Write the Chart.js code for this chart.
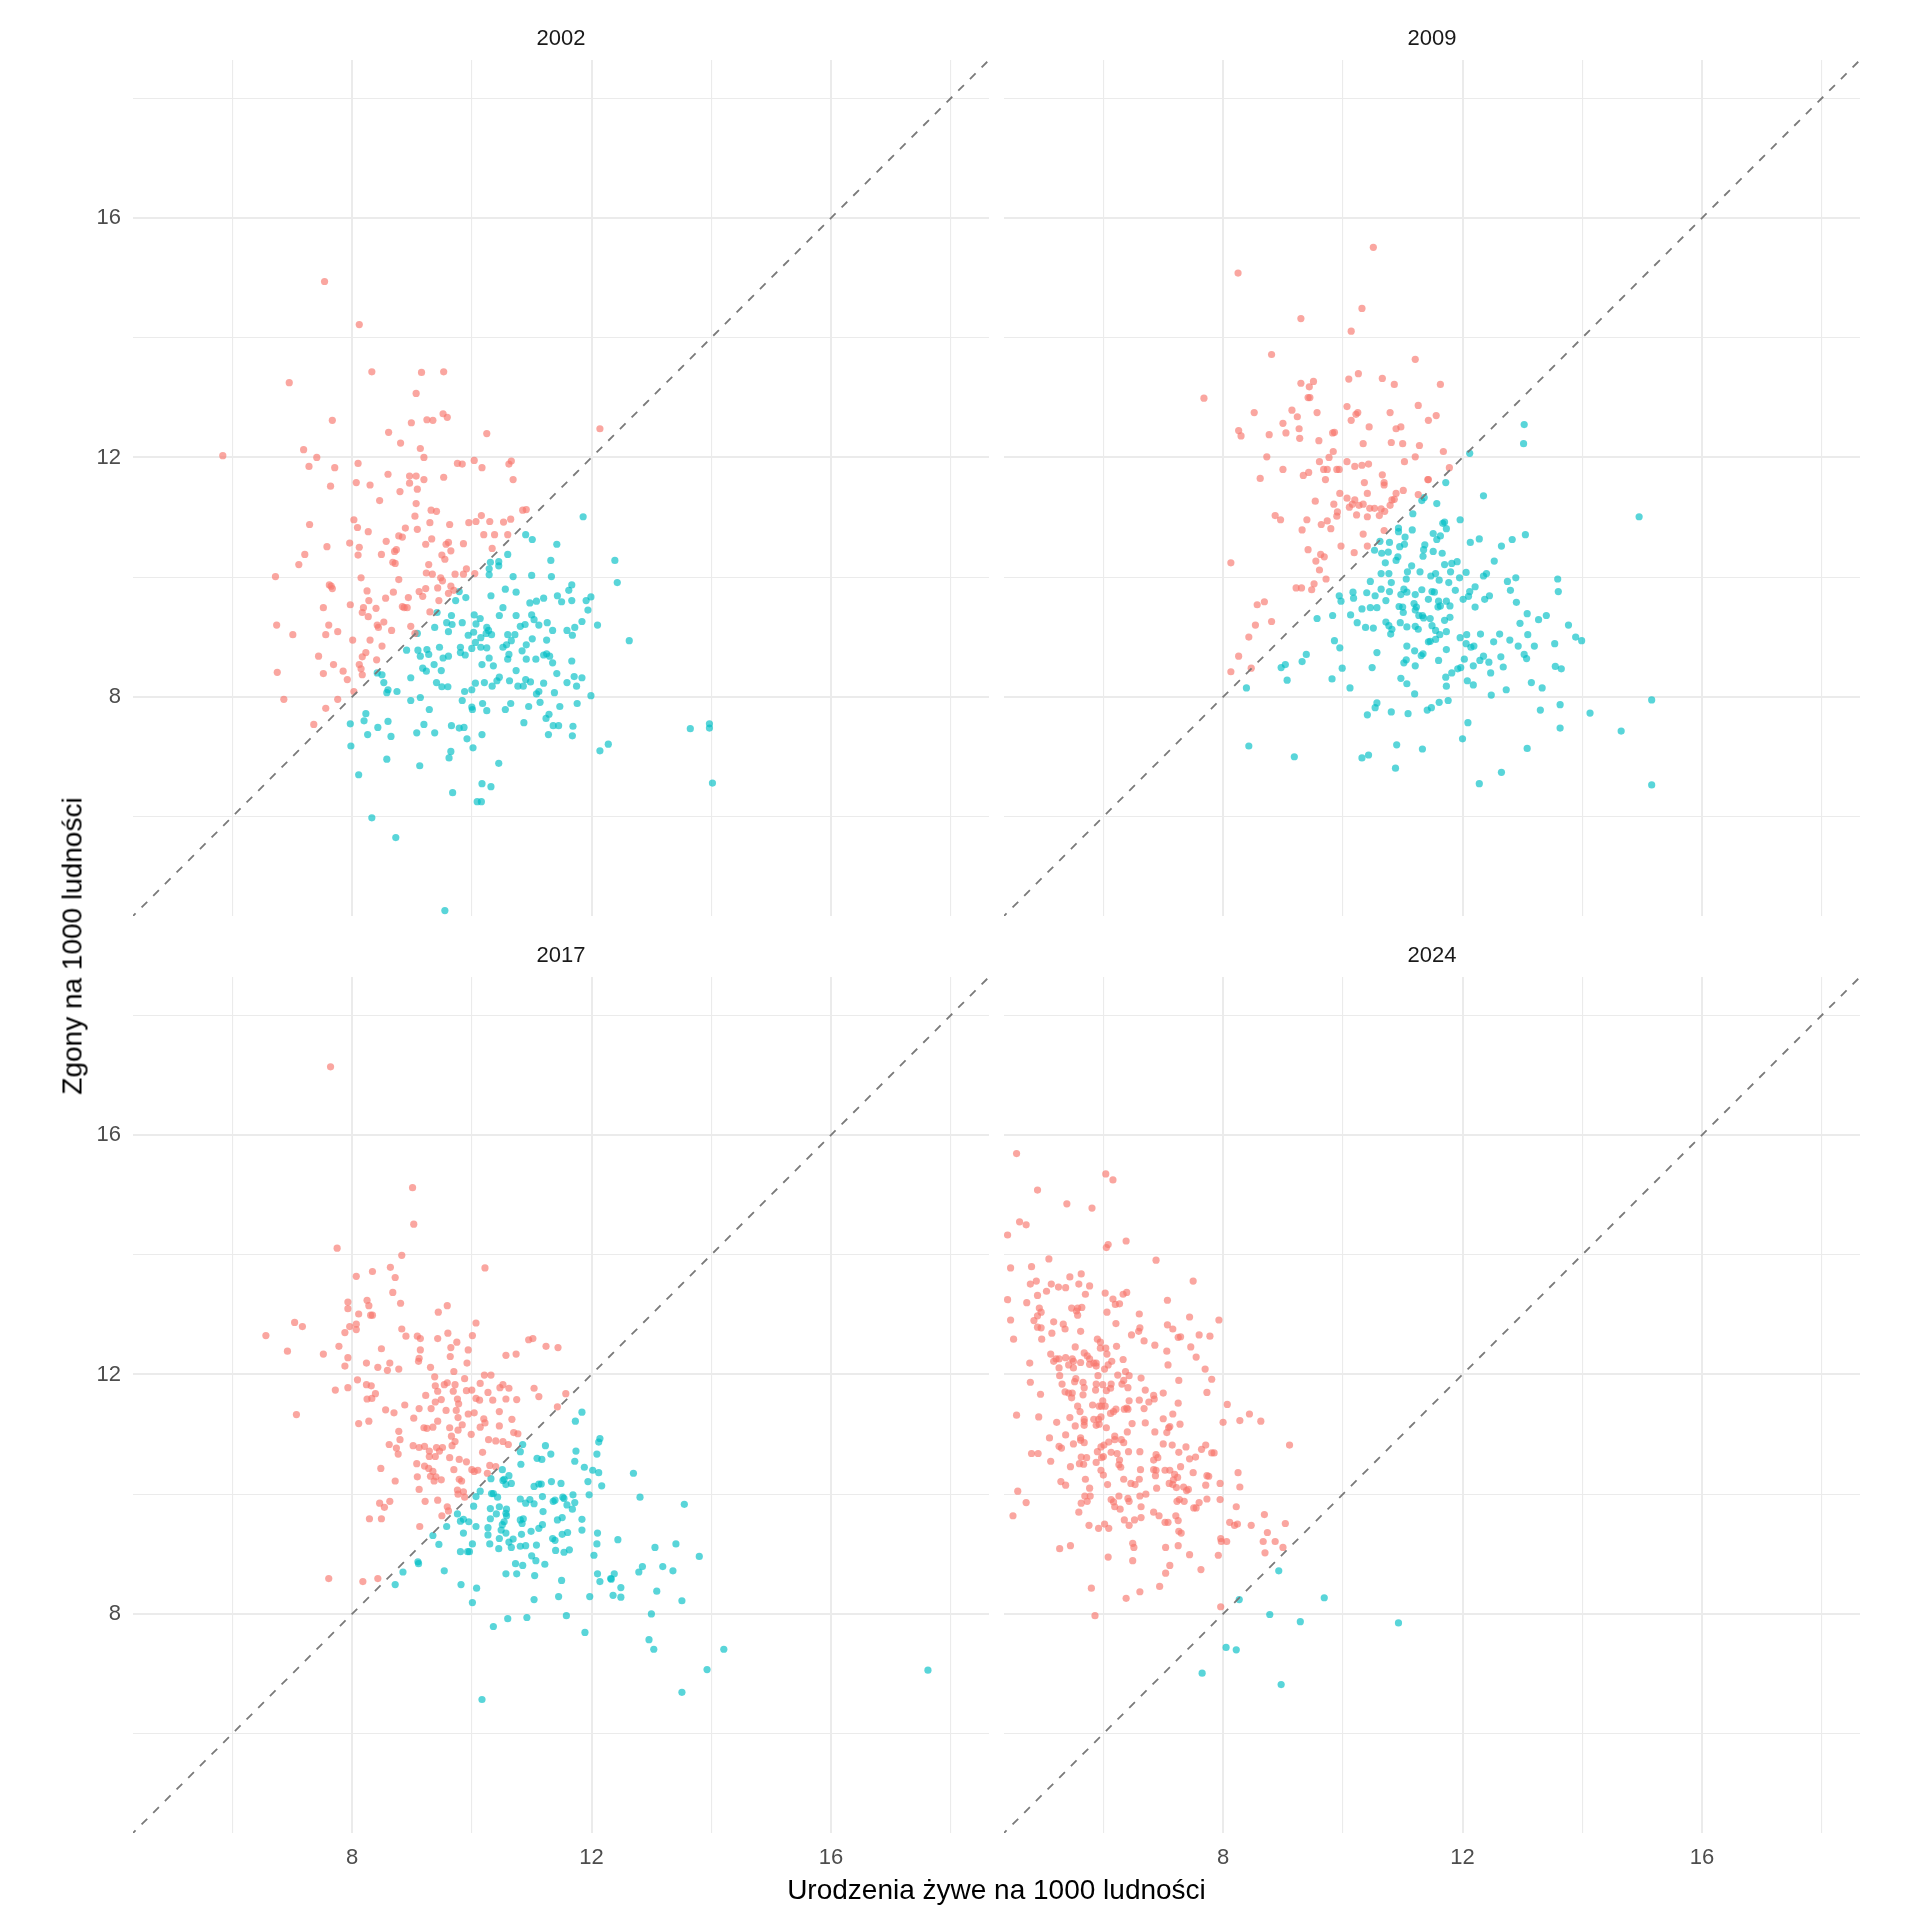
<!DOCTYPE html>
<html>
<head>
<meta charset="utf-8">
<script src="https://cdn.jsdelivr.net/npm/chart.js@4.4.1/dist/chart.umd.min.js"></script>
<style>
    body { margin: 0; background: #fff; }
    #wrap { position: relative; width: 1920px; height: 1920px; font-family: "Liberation Sans", Arial, sans-serif; }
    #wrap canvas { position: absolute; }
    .strip { position: absolute; width: 856px; text-align: center; font-size: 22px; line-height: 26px; color: #1A1A1A; }
    .axis-title { position: absolute; text-align: center; font-size: 28px; line-height: 34px; color: #000; }
</style>
</head>
<body>
<div id="wrap">
    <canvas id="c2002" width="926" height="946"></canvas>
    <canvas id="c2009" width="926" height="946"></canvas>
    <canvas id="c2017" width="926" height="946"></canvas>
    <canvas id="c2024" width="926" height="946"></canvas>
    <div class="strip" id="s2002"></div>
    <div class="strip" id="s2009"></div>
    <div class="strip" id="s2017"></div>
    <div class="strip" id="s2024"></div>
    <div class="axis-title" id="xTitle" style="left:133px; top:1873px; width:1727px;">Urodzenia żywe na 1000 ludności</div>
    <div class="axis-title" id="yTitle" style="left:-814px; top:929px; width:1773px; height:34px; transform:rotate(-90deg);">Zgony na 1000 ludności</div>
</div>
<script>
// facet years
const years = ['2002', '2009', '2017', '2024'];

// [births, deaths] per 1000 people
const pts2002 = [
    [7.54,14.94],[8.12,14.22],[6.95,13.25],[8.33,13.43],[9.16,13.42],[9.53,13.43],[9.07,13.07],[7.67,12.62],[9.52,12.73],[9.59,12.67],
    [9.25,12.63],[9.35,12.62],[8.99,12.58],[8.61,12.42],[10.25,12.40],[12.14,12.48],[8.81,12.24],[7.19,12.13],[9.14,12.15],[5.84,12.03],
    [7.41,12.0],[9.20,12.0],[8.10,11.90],[7.28,11.85],[7.71,11.83],[9.76,11.90],[9.84,11.89],[10.04,11.95],[10.17,11.83],[10.62,11.89],
    [10.66,11.94],[10.69,11.63],[8.60,11.72],[8.96,11.69],[9.07,11.69],[9.20,11.63],[9.53,11.67],[8.96,11.57],[8.07,11.58],[8.30,11.54],
    [7.64,11.52],[8.80,11.43],[9.09,11.47],[8.46,11.28],[9.07,11.23],[9.32,11.12],[9.41,11.10],[10.85,11.12],[10.91,11.13],[8.03,10.96],
    [9.05,11.02],[10.16,11.03],[9.95,10.91],[10.07,10.93],[10.30,10.93],[10.53,10.92],[10.65,10.97],[7.29,10.88],[8.09,10.83],[8.27,10.76],
    [8.89,10.82],[9.09,10.80],[9.30,10.91],[9.63,10.88],[10.20,10.71],[10.38,10.71],[10.60,10.71],[8.78,10.69],[8.84,10.67],[8.57,10.60],
    [9.33,10.64],[7.96,10.57],[7.58,10.51],[8.12,10.50],[9.23,10.55],[9.57,10.55],[9.61,10.58],[9.86,10.56],[8.71,10.43],[8.74,10.46],
    [9.65,10.44],[10.34,10.48],[7.21,10.38],[8.10,10.37],[8.49,10.38],[9.50,10.37],[9.55,10.30],[7.11,10.21],[8.68,10.25],[8.72,10.23],
    [9.28,10.21],[9.91,10.14],[9.24,10.07],[9.34,10.05],[9.72,10.05],[9.86,10.05],[10.05,10.06],[6.72,10.01],[8.15,9.99],[8.78,9.96],
    [9.48,9.99],[9.51,9.94],[7.62,9.87],[7.67,9.81],[7.65,9.85],[8.25,9.77],[8.69,9.75],[9.12,9.76],[9.23,9.81],[9.43,9.82],
    [9.65,9.85],[9.70,9.78],[9.61,9.73],[9.79,9.76],[8.56,9.65],[8.94,9.66],[9.18,9.68],[8.28,9.61],[9.45,9.61],[7.97,9.54],
    [7.52,9.49],[8.19,9.49],[8.40,9.48],[8.84,9.51],[8.87,9.49],[8.92,9.49],[8.17,9.41],[8.27,9.34],[9.30,9.42],[6.74,9.20],
    [7.61,9.20],[8.53,9.25],[8.42,9.20],[8.44,9.16],[8.98,9.18],[8.66,9.11],[7.76,9.09],[7.01,9.04],[7.56,9.04],[9.05,9.06],
    [8.01,8.95],[8.30,8.95],[8.50,8.85],[8.23,8.74],[7.44,8.68],[8.17,8.67],[8.41,8.62],[8.12,8.54],[7.69,8.54],[8.15,8.47],
    [7.85,8.43],[6.75,8.41],[7.52,8.39],[8.17,8.37],[7.92,8.29],[6.86,7.96],[7.76,7.96],[8.03,8.09],[7.56,7.81],[7.36,7.54],
    [11.86,11.01],[10.90,10.71],[11.01,10.63],[11.42,10.55],[12.39,10.28],[10.60,10.38],[11.32,10.28],[10.31,10.25],[10.45,10.26],[10.45,10.19],
    [10.29,10.14],[10.29,10.04],[10.69,10.01],[11.00,10.03],[11.33,10.01],[12.43,9.91],[11.67,9.87],[10.56,9.80],[10.74,9.75],[11.62,9.78],
    [11.43,9.69],[9.90,9.66],[9.73,9.61],[10.32,9.69],[11.20,9.65],[11.08,9.60],[10.97,9.57],[11.50,9.59],[11.67,9.61],[11.99,9.67],
    [11.91,9.61],[11.94,9.45],[10.52,9.49],[9.42,9.41],[9.66,9.36],[10.04,9.37],[10.14,9.31],[10.46,9.36],[10.74,9.36],[11.00,9.37],
    [11.04,9.29],[9.58,9.24],[9.67,9.21],[9.84,9.24],[10.07,9.22],[9.38,9.16],[9.61,9.09],[10.25,9.16],[10.28,9.11],[10.81,9.18],
    [10.89,9.21],[11.12,9.20],[11.26,9.24],[11.35,9.11],[11.59,9.11],[11.72,9.16],[11.84,9.26],[12.10,9.20],[11.68,9.03],[9.09,9.06],
    [9.94,9.03],[10.03,9.08],[10.15,8.99],[10.24,9.06],[10.33,9.04],[10.60,9.04],[10.72,9.04],[11.01,8.97],[11.25,8.95],[12.63,8.94],
    [10.00,8.81],[10.06,8.91],[10.15,8.83],[10.25,8.82],[10.52,8.83],[10.58,8.87],[10.66,8.94],[10.91,8.87],[9.81,8.83],[8.91,8.78],
    [9.10,8.78],[9.25,8.79],[9.28,8.71],[9.46,8.83],[9.81,8.74],[9.89,8.70],[9.14,8.68],[9.52,8.65],[9.61,8.68],[10.29,8.65],
    [10.62,8.71],[10.60,8.63],[10.84,8.77],[10.91,8.63],[11.07,8.63],[11.20,8.70],[11.25,8.72],[11.30,8.68],[11.67,8.60],[11.35,8.57],
    [9.37,8.54],[10.17,8.54],[10.36,8.52],[9.18,8.48],[9.24,8.43],[9.49,8.44],[10.74,8.44],[11.42,8.39],[8.42,8.40],[8.50,8.37],
    [8.98,8.32],[9.41,8.24],[9.50,8.17],[9.60,8.17],[10.06,8.23],[10.21,8.24],[10.34,8.18],[10.42,8.27],[10.46,8.33],[10.63,8.27],
    [10.77,8.18],[10.86,8.18],[10.90,8.29],[10.98,8.25],[11.20,8.23],[11.59,8.24],[11.71,8.34],[11.84,8.32],[11.75,8.18],[8.53,8.24],
    [8.60,8.12],[8.75,8.09],[8.58,8.07],[9.88,8.09],[10.00,8.12],[11.08,8.05],[11.12,8.09],[11.38,8.07],[11.99,8.02],[8.98,7.94],
    [9.14,7.99],[9.84,7.94],[10.18,7.89],[11.14,7.91],[11.76,7.89],[10.00,7.83],[10.01,7.79],[9.29,7.79],[10.25,7.77],[10.56,7.79],
    [10.65,7.89],[10.95,7.84],[11.47,7.84],[8.23,7.72],[11.29,7.71],[11.24,7.64],[8.20,7.60],[7.97,7.55],[8.60,7.59],[9.20,7.54],
    [9.66,7.52],[9.79,7.48],[9.87,7.49],[10.87,7.57],[11.36,7.52],[11.45,7.52],[11.69,7.51],[13.65,7.47],[13.97,7.55],[13.97,7.48],
    [8.43,7.49],[8.26,7.37],[8.65,7.34],[9.08,7.40],[9.38,7.40],[10.17,7.37],[11.28,7.37],[11.68,7.35],[9.92,7.30],[10.02,7.15],
    [12.28,7.21],[12.14,7.10],[7.98,7.18],[9.65,7.09],[9.62,6.98],[8.58,6.96],[10.45,6.89],[9.13,6.85],[8.11,6.70],[14.02,6.56],
    [10.17,6.55],[10.32,6.50],[10.09,6.25],[10.16,6.25],[9.68,6.40],[8.33,5.98],[8.73,5.65],[9.55,4.43]
];

const pts2009 = [
    [10.51,15.51],[8.25,15.08],[10.32,14.49],[9.30,14.32],[10.14,14.11],[8.81,13.72],[11.21,13.64],[10.10,13.31],[10.26,13.40],[10.66,13.32],
    [10.86,13.22],[11.63,13.22],[9.30,13.24],[9.44,13.18],[9.51,13.27],[9.42,13.00],[9.45,13.00],[7.68,12.99],[8.52,12.75],[9.15,12.79],
    [9.24,12.68],[9.57,12.75],[10.07,12.85],[10.22,12.72],[10.25,12.75],[10.14,12.62],[10.79,12.75],[11.26,12.87],[11.43,12.62],[11.56,12.70],
    [9.00,12.57],[9.27,12.48],[8.26,12.45],[8.30,12.36],[8.77,12.38],[9.05,12.41],[9.28,12.32],[9.60,12.28],[9.83,12.41],[9.86,12.42],
    [10.44,12.51],[10.89,12.48],[10.97,12.51],[10.34,12.23],[10.81,12.25],[11.00,12.23],[11.28,12.20],[11.68,12.10],[8.73,12.01],[9.84,12.10],
    [9.77,12.00],[9.61,11.93],[10.07,11.93],[10.20,11.85],[10.32,11.87],[10.43,11.89],[11.03,11.93],[11.21,12.01],[11.78,11.83],[9.00,11.80],
    [9.34,11.70],[9.43,11.75],[9.68,11.80],[9.74,11.80],[9.90,11.80],[9.94,11.80],[8.62,11.65],[9.71,11.63],[10.36,11.58],[10.66,11.71],
    [10.69,11.58],[10.69,11.54],[11.42,11.63],[11.43,11.63],[9.95,11.40],[10.41,11.40],[10.89,11.40],[11.01,11.45],[11.26,11.38],[9.54,11.27],
    [10.07,11.32],[10.20,11.29],[10.16,11.22],[10.27,11.20],[10.34,11.22],[10.45,11.15],[10.53,11.15],[10.64,11.14],[10.79,11.20],[10.82,11.29],
    [10.86,11.30],[9.85,11.22],[10.11,11.17],[9.91,11.09],[9.90,11.02],[10.23,11.04],[10.41,11.01],[10.61,11.03],[10.70,11.10],[8.87,11.03],
    [8.96,10.96],[9.40,10.96],[9.74,10.94],[9.64,10.88],[9.80,10.81],[9.32,10.79],[10.34,10.72],[10.69,10.78],[10.41,10.52],[9.97,10.52],
    [10.19,10.41],[9.42,10.46],[9.63,10.38],[9.69,10.34],[9.55,10.27],[9.61,10.12],[8.13,10.24],[9.72,9.97],[9.52,9.89],[9.22,9.82],
    [9.31,9.82],[9.48,9.79],[8.69,9.59],[8.57,9.54],[8.81,9.26],[8.54,9.20],[8.43,9.00],[8.26,8.68],[8.13,8.42],
    [13.03,12.55],[13.02,12.23],[12.12,12.07],[11.72,11.58],[12.35,11.36],[11.36,11.33],[11.32,11.28],[11.57,11.23],[11.17,11.06],[14.95,11.01],
    [11.96,10.96],[11.67,10.90],[11.70,10.92],[11.73,10.81],[10.93,10.82],[10.93,10.76],[11.16,10.79],[11.51,10.73],[11.63,10.69],[11.57,10.63],
    [11.04,10.67],[10.62,10.60],[10.78,10.58],[11.03,10.55],[10.95,10.51],[11.37,10.54],[11.35,10.46],[12.13,10.58],[12.28,10.64],[12.65,10.52],
    [12.83,10.63],[13.05,10.71],[10.53,10.45],[10.65,10.40],[10.76,10.42],[10.92,10.34],[10.89,10.28],[11.34,10.35],[11.51,10.43],[11.66,10.40],
    [10.71,10.24],[11.15,10.19],[11.82,10.23],[11.91,10.26],[11.70,10.21],[12.53,10.27],[11.08,10.09],[11.29,10.09],[11.55,10.06],[11.80,10.09],
    [12.06,10.08],[10.64,10.06],[10.77,10.06],[11.06,9.97],[11.47,10.02],[11.61,9.95],[11.77,9.91],[11.95,9.99],[12.35,10.02],[12.40,10.06],
    [12.75,9.93],[12.89,9.99],[13.59,9.97],[13.60,9.76],[10.46,9.93],[10.81,9.91],[10.64,9.80],[10.78,9.76],[11.02,9.80],[11.07,9.75],
    [11.32,9.79],[11.49,9.76],[11.53,9.75],[11.88,9.78],[12.12,9.76],[12.21,9.84],[12.80,9.78],[10.17,9.75],[10.40,9.74],[10.54,9.69],
    [10.72,9.61],[10.97,9.71],[11.21,9.71],[11.43,9.63],[11.60,9.60],[11.73,9.60],[12.01,9.63],[12.10,9.68],[12.37,9.63],[12.45,9.69],
    [9.94,9.69],[9.97,9.60],[10.18,9.65],[12.90,9.58],[10.94,9.51],[11.00,9.50],[11.19,9.56],[11.23,9.50],[11.21,9.45],[11.59,9.50],
    [11.63,9.52],[11.79,9.52],[12.21,9.50],[10.32,9.47],[10.46,9.49],[10.57,9.49],[11.01,9.41],[11.27,9.36],[11.33,9.36],[11.46,9.31],
    [11.35,9.32],[11.21,9.18],[11.26,9.13],[11.49,9.19],[11.79,9.33],[11.70,9.28],[13.08,9.39],[13.27,9.29],[13.40,9.36],[12.96,9.23],
    [10.13,9.37],[9.83,9.36],[9.57,9.31],[10.24,9.24],[10.38,9.16],[10.51,9.15],[10.72,9.25],[10.77,9.19],[10.82,9.13],[10.80,9.05],
    [10.96,9.24],[11.07,9.17],[11.55,9.11],[11.62,9.04],[11.55,8.96],[11.43,8.92],[11.46,8.93],[11.73,9.09],[11.96,8.99],[12.07,9.04],
    [12.30,9.05],[12.62,9.05],[13.09,9.04],[12.52,8.92],[12.79,8.95],[13.77,9.20],[13.89,9.00],[13.99,8.94],[13.54,8.89],[12.06,8.89],
    [12.14,8.83],[12.19,8.85],[12.93,8.85],[13.20,8.85],[9.86,8.94],[9.95,8.82],[11.07,8.85],[11.20,8.77],[11.31,8.69],[11.34,8.72],
    [11.73,8.79],[10.57,8.74],[12.35,8.68],[12.29,8.61],[12.44,8.58],[12.64,8.67],[13.03,8.71],[13.07,8.64],[12.03,8.63],[11.06,8.62],
    [11.02,8.57],[11.21,8.52],[11.60,8.61],[12.18,8.52],[12.68,8.50],[12.47,8.40],[11.92,8.47],[11.97,8.49],[11.82,8.40],[13.55,8.51],
    [13.65,8.47],[9.39,8.71],[9.32,8.59],[9.04,8.54],[8.97,8.49],[8.47,8.48],[9.99,8.48],[10.49,8.49],[9.07,8.28],[9.82,8.30],
    [10.97,8.31],[11.07,8.22],[11.72,8.33],[11.73,8.18],[12.08,8.27],[12.18,8.20],[13.15,8.24],[13.33,8.15],[12.73,8.12],[12.48,8.03],
    [11.20,8.05],[10.12,8.15],[8.39,8.15],[15.16,7.95],[10.57,7.90],[10.54,7.82],[10.41,7.70],[10.81,7.75],[11.09,7.72],[11.41,7.78],
    [11.48,7.82],[11.61,7.91],[11.76,7.94],[13.30,7.78],[13.63,7.87],[14.13,7.73],[12.09,7.57],[13.63,7.48],[14.65,7.43],[12.00,7.30],
    [10.90,7.20],[11.33,7.13],[13.08,7.14],[8.43,7.18],[9.19,7.00],[10.32,6.98],[10.43,7.03],[10.88,6.81],[12.65,6.74],[12.28,6.55],
    [15.16,6.53]
];

const pts2017 = [
    [7.64,17.14],[9.01,15.12],[9.03,14.51],[7.75,14.11],[8.83,13.99],[10.22,13.78],[8.07,13.64],[8.34,13.72],[8.64,13.79],[8.72,13.62],
    [8.68,13.37],[8.81,13.19],[7.93,13.21],[7.93,13.10],[8.25,13.24],[8.28,13.15],[8.31,12.99],[8.34,12.99],[8.11,13.01],[7.04,12.87],
    [7.17,12.80],[7.96,12.80],[8.07,12.84],[8.07,12.75],[7.88,12.70],[6.56,12.65],[9.44,13.04],[9.59,13.15],[10.07,12.86],[8.83,12.76],
    [8.90,12.64],[9.09,12.64],[9.14,12.60],[9.43,12.60],[9.60,12.69],[9.75,12.54],[9.65,12.45],[9.64,12.30],[10.01,12.65],[9.94,12.41],
    [10.95,12.58],[11.02,12.60],[11.24,12.47],[11.44,12.45],[6.92,12.39],[7.52,12.34],[7.78,12.47],[8.49,12.43],[7.93,12.28],[7.88,12.14],
    [8.24,12.19],[8.43,12.12],[8.63,12.19],[8.59,12.07],[8.78,12.09],[9.14,12.41],[9.12,12.27],[9.11,12.22],[9.31,12.12],[9.70,12.05],
    [9.92,12.19],[10.57,12.32],[10.74,12.34],[7.72,11.74],[7.93,11.78],[8.09,11.91],[8.24,11.83],[8.32,11.81],[8.39,11.68],[8.25,11.59],
    [8.33,11.60],[7.07,11.33],[9.38,11.96],[9.39,11.81],[9.54,11.83],[9.59,11.86],[9.72,11.83],[9.88,11.93],[10.21,11.99],[10.32,11.99],
    [10.14,11.85],[9.23,11.65],[9.43,11.72],[9.49,11.58],[9.69,11.72],[9.91,11.73],[10.00,11.74],[10.07,11.60],[10.13,11.57],[10.35,11.57],
    [10.27,11.70],[10.47,11.78],[10.52,11.83],[10.62,11.77],[10.57,11.59],[10.75,11.58],[11.04,11.77],[11.12,11.63],[11.57,11.68],[11.43,11.46],
    [8.88,11.49],[8.56,11.41],[8.70,11.36],[9.12,11.43],[9.32,11.43],[9.39,11.54],[9.76,11.59],[9.78,11.51],[9.74,11.40],[9.57,11.40],
    [9.94,11.34],[10.04,11.36],[10.46,11.38],[8.11,11.18],[8.28,11.22],[9.03,11.27],[9.43,11.22],[9.77,11.28],[10.20,11.26],[10.22,11.19],
    [10.67,11.25],[9.20,11.11],[9.25,11.10],[9.35,11.12],[9.63,11.11],[9.77,11.07],[9.84,11.16],[10.14,11.12],[10.46,11.14],[10.70,11.03],
    [10.77,11.01],[8.78,11.05],[8.80,10.91],[9.66,10.97],[9.99,11.00],[9.72,10.88],[9.67,10.81],[8.62,10.83],[9.02,10.81],[9.12,10.78],
    [9.21,10.80],[9.41,10.78],[9.51,10.78],[10.28,10.91],[10.40,10.89],[10.52,10.88],[10.61,10.83],[8.74,10.77],[8.77,10.67],[9.29,10.72],
    [9.46,10.72],[9.29,10.63],[9.39,10.63],[9.63,10.61],[9.79,10.58],[9.91,10.54],[10.18,10.70],[9.08,10.51],[9.21,10.47],[9.28,10.43],
    [9.35,10.38],[9.31,10.30],[9.40,10.29],[9.37,10.22],[9.49,10.24],[9.70,10.41],[10.00,10.41],[10.04,10.38],[10.10,10.40],[10.30,10.48],
    [10.40,10.46],[10.26,10.35],[8.48,10.43],[9.09,10.29],[9.12,10.08],[8.72,10.22],[9.79,10.25],[9.83,10.22],[9.76,10.07],[9.86,10.04],
    [9.77,10.00],[9.88,9.95],[9.22,9.88],[9.43,9.90],[8.63,9.88],[8.46,9.85],[8.54,9.78],[8.29,9.59],[8.49,9.59],[9.59,9.79],
    [9.61,9.72],[9.50,9.64],[9.13,9.46],[7.61,8.59],[8.18,8.54],[8.43,8.59],
    [11.84,11.37],[11.73,11.22],[12.14,10.93],[12.12,10.87],[10.85,10.83],[11.23,10.81],[10.81,10.71],[11.74,10.72],[12.09,10.67],[11.32,10.67],
    [11.09,10.60],[11.17,10.58],[11.72,10.55],[10.82,10.50],[11.88,10.45],[12.02,10.40],[12.12,10.36],[12.70,10.35],[10.51,10.41],[10.62,10.31],
    [10.32,10.26],[10.52,10.23],[10.57,10.16],[10.66,10.18],[10.54,10.25],[11.12,10.17],[11.16,10.17],[11.04,10.13],[11.33,10.21],[11.49,10.18],
    [11.94,10.21],[12.17,10.14],[10.33,10.01],[10.36,10.01],[10.14,10.05],[10.07,9.96],[10.43,9.95],[10.81,9.92],[11.18,9.96],[10.97,9.91],
    [10.90,9.85],[11.04,9.84],[11.36,9.88],[11.39,9.90],[11.52,9.95],[11.54,9.93],[11.59,9.82],[11.69,9.99],[11.72,9.86],[11.96,9.99],
    [12.81,9.95],[11.68,9.75],[10.03,9.80],[10.31,9.76],[10.46,9.79],[10.58,9.75],[10.57,9.68],[10.41,9.67],[10.58,9.64],[11.19,9.71],
    [11.51,9.61],[11.43,9.57],[11.84,9.58],[13.55,9.83],[9.76,9.67],[9.86,9.58],[9.95,9.54],[9.81,9.55],[10.31,9.59],[10.54,9.54],
    [10.81,9.57],[10.86,9.59],[10.84,9.51],[10.51,9.49],[10.27,9.44],[10.07,9.46],[9.58,9.46],[10.49,9.40],[10.57,9.35],[10.83,9.33],
    [10.99,9.38],[11.12,9.43],[11.18,9.49],[11.51,9.33],[11.60,9.36],[11.84,9.40],[12.10,9.35],[9.86,9.35],[10.27,9.32],[10.46,9.26],
    [10.69,9.25],[11.35,9.26],[11.39,9.23],[9.35,9.31],[9.45,9.16],[10.01,9.17],[10.30,9.17],[10.62,9.20],[10.66,9.11],[10.81,9.13],
    [10.90,9.14],[11.08,9.15],[12.09,9.17],[12.44,9.24],[13.41,9.17],[13.06,9.11],[10.45,9.09],[9.81,9.04],[9.93,9.04],[9.96,9.04],
    [11.40,9.06],[11.54,9.03],[11.63,9.07],[11.00,8.97],[11.07,8.89],[10.73,8.84],[10.85,8.81],[11.22,8.83],[12.04,8.98],[13.80,8.96],
    [12.85,8.79],[12.79,8.70],[13.19,8.79],[13.36,8.72],[9.10,8.87],[9.11,8.84],[9.54,8.72],[8.85,8.70],[8.72,8.49],[10.57,8.67],
    [10.75,8.67],[11.05,8.64],[12.10,8.67],[12.38,8.67],[12.32,8.59],[12.33,8.58],[12.14,8.54],[11.50,8.56],[9.82,8.49],[10.08,8.43],
    [12.49,8.44],[13.09,8.38],[11.45,8.29],[11.97,8.29],[12.36,8.31],[12.49,8.28],[11.04,8.24],[10.01,8.19],[13.51,8.22],[13.00,8.00],
    [10.60,7.92],[10.92,7.94],[11.58,7.97],[10.36,7.79],[11.89,7.69],[12.96,7.57],[13.04,7.41],[14.21,7.41],[13.93,7.07],[13.51,6.69],
    [10.17,6.57],[17.62,7.06]
];

const pts2024 = [
    [4.55,15.69],[6.04,15.35],[6.16,15.25],[4.90,15.08],[5.39,14.85],[5.81,14.78],[4.60,14.55],[4.71,14.50],[4.40,14.33],[6.38,14.23],
    [6.05,14.12],[6.08,14.17],[5.09,13.93],[6.88,13.91],[4.45,13.78],[4.80,13.80],[5.63,13.68],[5.44,13.63],[7.50,13.56],[4.88,13.56],
    [4.78,13.51],[5.13,13.51],[5.25,13.46],[5.37,13.45],[5.59,13.51],[5.77,13.48],[5.05,13.39],[5.70,13.34],[6.03,13.36],[6.33,13.34],
    [6.39,13.37],[4.90,13.32],[4.40,13.25],[4.72,13.20],[6.16,13.26],[6.20,13.17],[6.27,13.18],[7.07,13.24],[4.93,13.11],[5.47,13.11],
    [5.57,13.11],[5.64,13.12],[5.55,13.06],[4.96,13.04],[5.57,12.99],[6.06,13.04],[6.60,13.01],[4.45,12.91],[4.84,12.90],[4.90,12.98],
    [5.17,12.88],[5.33,12.84],[5.36,12.76],[4.90,12.79],[4.96,12.78],[6.21,12.85],[7.07,12.83],[7.16,12.76],[7.44,12.96],[7.93,12.91],
    [6.61,12.78],[6.59,12.72],[5.62,12.72],[5.14,12.69],[4.50,12.59],[4.97,12.59],[6.47,12.66],[5.90,12.59],[5.95,12.54],[6.68,12.56],
    [6.86,12.49],[7.25,12.62],[7.29,12.63],[7.60,12.66],[7.78,12.64],[7.46,12.46],[5.53,12.46],[5.95,12.44],[6.04,12.44],[6.22,12.47],
    [7.06,12.39],[5.12,12.34],[5.68,12.36],[6.06,12.34],[7.55,12.29],[5.21,12.26],[5.26,12.26],[5.37,12.28],[5.17,12.22],[5.48,12.26],
    [5.50,12.22],[5.73,12.31],[5.77,12.26],[5.62,12.20],[5.84,12.19],[5.88,12.19],[5.88,12.14],[5.77,12.17],[6.14,12.22],[6.08,12.16],
    [6.33,12.25],[4.77,12.19],[5.42,12.16],[5.50,12.11],[5.26,12.11],[6.02,12.09],[7.08,12.16],[7.70,12.09],[5.27,11.98],[5.91,11.98],
    [6.24,11.99],[6.37,12.05],[6.43,11.98],[6.63,11.94],[7.26,11.90],[7.81,11.92],[5.54,11.93],[5.52,11.88],[5.66,11.87],[4.78,11.87],
    [5.31,11.84],[5.68,11.78],[5.88,11.84],[5.99,11.83],[6.13,11.84],[6.12,11.77],[6.31,11.84],[6.34,11.90],[6.41,11.78],[6.05,11.73],
    [5.87,11.74],[5.36,11.71],[5.42,11.69],[5.48,11.69],[5.47,11.61],[4.95,11.67],[5.66,11.66],[6.70,11.74],[6.84,11.65],[7.00,11.69],
    [7.73,11.70],[6.85,11.59],[6.76,11.54],[6.60,11.57],[6.43,11.56],[5.99,11.56],[5.93,11.47],[5.97,11.47],[5.82,11.49],[5.57,11.47],
    [5.61,11.38],[6.03,11.47],[6.21,11.42],[6.17,11.38],[6.12,11.35],[6.35,11.42],[6.39,11.44],[6.41,11.42],[6.68,11.43],[7.25,11.52],
    [8.07,11.50],[4.55,11.32],[4.92,11.29],[5.44,11.28],[5.68,11.25],[5.68,11.21],[5.84,11.25],[5.92,11.25],[5.96,11.29],[5.93,11.17],
    [5.88,11.15],[6.05,11.11],[5.68,11.15],[5.53,11.14],[5.22,11.20],[6.48,11.18],[6.70,11.19],[7.00,11.26],[7.16,11.34],[7.11,11.13],
    [7.09,11.11],[7.28,11.17],[8.00,11.20],[8.28,11.23],[8.44,11.34],[8.63,11.22],[9.11,10.82],[6.86,11.04],[7.06,11.03],[6.40,11.04],
    [5.37,10.99],[5.10,10.94],[5.62,10.94],[5.62,10.90],[5.68,10.86],[5.50,10.84],[6.19,10.97],[6.19,10.91],[6.09,10.87],[6.01,10.82],
    [5.96,10.79],[6.30,10.91],[6.34,10.86],[5.26,10.80],[5.30,10.77],[7.00,10.84],[7.15,10.82],[7.38,10.79],[7.71,10.82],[7.64,10.75],
    [7.81,10.69],[7.85,10.69],[7.26,10.70],[4.80,10.68],[4.91,10.68],[5.90,10.71],[6.13,10.70],[6.23,10.68],[6.42,10.71],[6.61,10.71],
    [6.88,10.66],[6.91,10.61],[6.84,10.57],[7.44,10.59],[7.54,10.62],[5.12,10.55],[5.63,10.62],[5.72,10.61],[5.97,10.61],[6.00,10.63],
    [5.88,10.53],[5.60,10.51],[5.67,10.50],[6.27,10.57],[6.26,10.49],[6.29,10.45],[5.45,10.46],[7.29,10.46],[6.62,10.41],[6.84,10.41],
    [6.88,10.40],[7.03,10.40],[7.11,10.40],[5.96,10.40],[6.00,10.32],[7.50,10.36],[7.73,10.31],[7.76,10.30],[8.25,10.36],[7.19,10.33],
    [7.24,10.28],[6.87,10.31],[7.17,10.24],[5.70,10.25],[6.34,10.25],[6.60,10.25],[5.29,10.21],[5.37,10.15],[6.07,10.16],[6.46,10.18],
    [6.53,10.16],[7.10,10.18],[7.16,10.16],[7.22,10.11],[7.34,10.12],[7.39,10.06],[7.42,10.08],[7.71,10.15],[7.95,10.18],[8.28,10.12],
    [5.77,10.10],[6.89,10.10],[4.57,10.05],[5.69,9.97],[5.78,9.97],[5.73,9.88],[6.26,9.97],[6.61,9.97],[6.71,10.00],[7.73,9.92],
    [7.95,9.91],[4.71,9.86],[5.63,9.85],[6.13,9.91],[6.17,9.87],[6.19,9.79],[6.41,9.93],[6.43,9.88],[6.63,9.79],[6.28,9.75],
    [7.23,9.88],[7.27,9.91],[7.35,9.88],[7.60,9.86],[7.51,9.77],[7.55,9.77],[8.22,9.79],[5.59,9.70],[4.49,9.64],[6.84,9.70],
    [6.93,9.64],[7.21,9.64],[6.63,9.61],[6.52,9.57],[6.35,9.57],[6.43,9.48],[7.03,9.53],[7.08,9.53],[7.25,9.56],[8.69,9.66],
    [9.04,9.51],[8.11,9.53],[8.19,9.48],[8.24,9.50],[8.47,9.48],[5.76,9.48],[5.92,9.43],[6.02,9.50],[6.09,9.43],[7.26,9.38],
    [7.30,9.35],[8.74,9.36],[8.67,9.21],[8.87,9.21],[9.00,9.11],[8.70,9.02],[7.96,9.26],[7.97,9.21],[8.06,9.21],[6.49,9.18],
    [6.51,9.11],[7.04,9.11],[7.25,9.14],[5.27,9.09],[5.45,9.14],[6.08,8.95],[6.49,8.89],[7.44,8.99],[7.92,8.98],[7.11,8.81],
    [7.04,8.68],[7.63,8.74],[5.80,8.43],[6.94,8.46],[6.61,8.37],[6.38,8.26],[7.96,8.12],[5.86,7.97],
    [8.93,8.72],[8.27,8.24],[9.69,8.27],[8.78,7.99],[9.29,7.87],[10.93,7.85],[8.05,7.44],[8.22,7.40],[7.65,7.01],[8.97,6.82]
];

// axis values (same limits on both axes, so y = x runs corner to corner)
const xRange = [4.34, 18.64];
const yRange = [4.34, 18.64];
const gridValues = [6, 8, 10, 12, 14, 16, 18];
const tickLabels = [8, 12, 16];
const diagonal = [0, 25];

const points = { '2002': pts2002, '2009': pts2009, '2017': pts2017, '2024': pts2024 };

const fontFamily = '"Liberation Sans", Arial, sans-serif';

// panel placement: left/top of the plotting area in the page
const layout = {
    '2002': { left: 133, top: 60, showX: false, showY: true },
    '2009': { left: 1004, top: 60, showX: false, showY: false },
    '2017': { left: 133, top: 977, showX: true, showY: true },
    '2024': { left: 1004, top: 977, showX: true, showY: false }
};

function gridWidth(ctx) {
    if (!ctx.tick) return 1;
    return tickLabels.includes(ctx.tick.value) ? 2 : 1.1;
}

function makeScale(range, showTicks, isX) {
    return {
        type: 'linear',
        min: range[0],
        max: range[1],
        afterBuildTicks: (scale) => {
            scale.ticks = gridValues.map(v => ({ value: v }));
        },
        afterFit: (scale) => {
            if (isX) scale.height = 50;
            else scale.width = 60;
        },
        border: { display: false },
        grid: {
            color: '#EBEBEB',
            lineWidth: gridWidth,
            drawTicks: false
        },
        ticks: {
            display: showTicks,
            autoSkip: false,
            maxRotation: 0,
            padding: 12,
            color: '#4D4D4D',
            font: { size: 22, family: fontFamily },
            callback: (v) => tickLabels.includes(v) ? String(v) : ''
        }
    };
}

years.forEach(year => {
    const pos = layout[year];
    const canvas = document.getElementById('c' + year);
    canvas.style.left = (pos.left - 60) + 'px';
    canvas.style.top = (pos.top - 30) + 'px';

    const strip = document.getElementById('s' + year);
    strip.textContent = year;
    strip.style.left = pos.left + 'px';
    strip.style.top = (pos.top - 35) + 'px';

    const data = points[year];
    // red: deaths above births, teal: births at or above deaths
    const decline = data.filter(p => p[1] > p[0]).map(p => ({ x: p[0], y: p[1] }));
    const growth = data.filter(p => p[1] <= p[0]).map(p => ({ x: p[0], y: p[1] }));

    new Chart(canvas.getContext('2d'), {
        type: 'scatter',
        data: {
            datasets: [
                {
                    type: 'line',
                    data: diagonal.map(v => ({ x: v, y: v })),
                    borderColor: '#7A7A7A',
                    borderWidth: 1.8,
                    borderDash: [8, 8.5],
                    pointRadius: 0,
                    fill: false
                },
                {
                    data: decline,
                    backgroundColor: 'rgba(248, 118, 109, 0.65)',
                    borderWidth: 0,
                    pointRadius: 3.6
                },
                {
                    data: growth,
                    backgroundColor: 'rgba(0, 191, 196, 0.65)',
                    borderWidth: 0,
                    pointRadius: 3.6
                }
            ]
        },
        options: {
            responsive: false,
            animation: false,
            layout: { padding: { top: 30, right: 10, bottom: 10, left: 0 } },
            scales: {
                x: makeScale(xRange, pos.showX, true),
                y: makeScale(yRange, pos.showY, false)
            },
            plugins: {
                legend: { display: false },
                tooltip: { enabled: false }
            }
        }
    });
});
</script>
</body>
</html>
